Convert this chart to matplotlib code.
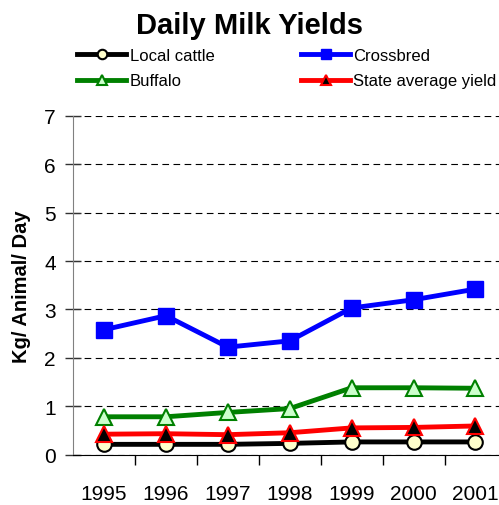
import matplotlib
matplotlib.use("Agg")
import matplotlib.pyplot as plt
import numpy as np

years = ["1995", "1996", "1997", "1998", "1999", "2000", "2001"]
local_cattle = [0.21, 0.21, 0.21, 0.23, 0.26, 0.26, 0.26]
crossbred = [2.58, 2.87, 2.22, 2.35, 3.03, 3.20, 3.42]
buffalo = [0.78, 0.78, 0.87, 0.95, 1.38, 1.38, 1.37]
state_avg = [0.42, 0.43, 0.41, 0.45, 0.55, 0.56, 0.59]

plt.rcParams["font.family"] = ["Liberation Sans", "DejaVu Sans"]

fig = plt.figure(figsize=(4.99, 5.06), dpi=100)
ax = fig.add_axes([73 / 499, 1 - 455.5 / 506, 426 / 499, 338.5 / 506])

x = np.arange(len(years))
l1, = ax.plot(x, local_cattle, color="black", lw=3.5, marker="o", ms=10.5,
              mfc="#FFFFCC", mec="black", mew=1.5, label="Local cattle", zorder=3)
l2, = ax.plot(x, crossbred, color="#0000FF", lw=3.5, marker="s", ms=12,
              mfc="#0000FF", mec="#0000FF", label="Crossbred", zorder=3)
l3, = ax.plot(x, buffalo, color="#008000", lw=3.5, marker="^", ms=11,
              mfc="#CCFFCC", mec="#008000", mew=1.5, label="Buffalo", zorder=3)
l4, = ax.plot(x, state_avg, color="#FF0000", lw=3.5, marker="^", ms=11,
              mfc="black", mec="#FF0000", mew=1.5, label="State average yield", zorder=3)

ax.set_xlim(-0.5, 6.38)
ax.set_ylim(0, 7)
ax.set_yticks(range(0, 8))
ax.set_xticks(x)
ax.set_xticklabels(years)
ax.set_xticks(np.arange(0.5, 6.0, 1.0), minor=True)
ax.tick_params(axis="x", which="major", length=0, pad=21, labelsize=15)
ax.tick_params(axis="x", which="minor", length=7, direction="out", width=1)
ax.tick_params(axis="y", length=11, width=1, direction="inout", labelsize=15,
               pad=7, color="#333333")
ax.yaxis.grid(True, linestyle=(0, (6, 4)), color="black", lw=0.8)
ax.set_axisbelow(True)
for s in ("top", "right"):
    ax.spines[s].set_visible(False)
ax.spines["left"].set_color("#808080")
ax.spines["bottom"].set_color("black")
ax.set_ylabel("Kg/ Animal/ Day", fontsize=14.5, fontweight="bold", labelpad=9)

fig.suptitle("Daily Milk Yields", fontsize=21, fontweight="bold", x=0.5, y=0.977)
fig.legend(handles=[l1, l3, l2, l4], ncol=2, frameon=False, fontsize=12,
           loc="upper left", bbox_to_anchor=(77 / 499, 1 - 49 / 506),
           handlelength=2.95, handletextpad=0.2, columnspacing=5.2,
           labelspacing=0.62, borderaxespad=0, borderpad=0, markerscale=0.65)

fig.savefig("out.png", dpi=100)
